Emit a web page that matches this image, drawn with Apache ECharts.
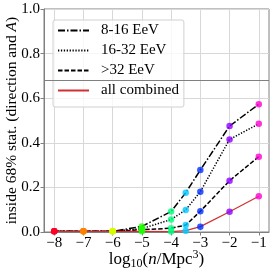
<!DOCTYPE html>
<html><head><meta charset="utf-8">
<script src="https://cdn.jsdelivr.net/npm/echarts@6/dist/echarts.min.js"></script>
<style>html,body{margin:0;padding:0;background:#fff}#c{width:274px;height:275px}</style>
</head><body><div id="c"></div>
<script>
const xVals = [-8, -7, -6, -5, -4, -3.5, -3, -2, -1];
const pointColors = ['#ff0028', '#ff8000', '#d4ff00', '#1eff00', '#00ff80', '#00c8ff', '#0030ff', '#9000ff', '#ff00d4'];
const s8_16 = [0.003, 0.003, 0.003, 0.025, 0.092, 0.176, 0.278, 0.475, 0.573];
const s16_32 = [0.003, 0.003, 0.003, 0.015, 0.056, 0.099, 0.181, 0.415, 0.485];
const s32 = [0.003, 0.003, 0.003, 0.010, 0.017, 0.031, 0.093, 0.230, 0.338];
const sAll = [0.003, 0.003, 0.003, 0.003, 0.002, 0.006, 0.024, 0.091, 0.160];
const xTicks = [-8, -7, -6, -5, -4, -3, -2, -1];
const refLine = 0.68;
const names = ['8-16 EeV', '16-32 EeV', '>32 EeV', 'all combined'];

const font = 'Liberation Serif';
const chart = echarts.init(document.getElementById('c'), null, {renderer: 'canvas'});
const pair = arr => arr.map((v, i) => [xVals[i], v]);
const styles = [
  {color: '#000', type: [7, 2, 1.5, 2], width: 1.5},
  {color: '#000', type: [1.3, 1.6], width: 1.5},
  {color: '#000', type: [4.5, 2], width: 1.5},
  {color: '#d03030', type: 'solid', width: 1.2}
];
const sets = [s8_16, s16_32, s32, sAll];
const series = [];
sets.forEach((s, k) => {
  series.push({
    name: names[k], type: 'line', data: pair(s), symbol: 'none',
    lineStyle: styles[k], itemStyle: {color: styles[k].color}, z: 3, silent: true,
    markLine: k === 0 ? {symbol: 'none', silent: true, label: {show: false},
      lineStyle: {color: '#808080', type: 'solid', width: 1}, data: [{yAxis: refLine}]} : undefined
  });
});
sets.forEach((s, k) => {
  series.push({
    name: 'pts' + k, type: 'scatter', symbol: 'circle', symbolSize: 6.5, z: 5, silent: true,
    data: s.map((v, i) => ({value: [xVals[i], v], itemStyle: {color: pointColors[i]}}))
  });
});

chart.setOption({
  animation: false,
  grid: {left: 44, top: 9, right: 5, bottom: 43, show: true, borderColor: '#808080', borderWidth: 1,
    containLabel: false, outerBoundsMode: 'none'},
  legend: {
    data: names, orient: 'vertical', left: 53, top: 20,
    itemWidth: 31, itemHeight: 14, itemGap: 5,
    padding: [3, 5, 9, 4],
    itemStyle: {color: 'rgba(0,0,0,0)', borderWidth: 0, opacity: 0},
    backgroundColor: 'rgba(255,255,255,0.8)', borderColor: '#d0d0d0', borderWidth: 1, borderRadius: 2,
    textStyle: {fontFamily: font, fontSize: 15, color: '#000', padding: [0, 0, 0, 7]},
    selectedMode: false
  },
  xAxis: {
    type: 'value', min: -8.35, max: -0.65,
    name: '{a|log}{s|10}{a|(}{i|n}{a|/Mpc}{p|3}{a|)}', nameLocation: 'middle', nameGap: 17,
    nameMoveOverlap: false,
    nameTextStyle: {rich: {
      a: {fontFamily: font, fontSize: 17, color: '#000'},
      i: {fontFamily: font, fontSize: 17, fontStyle: 'italic', color: '#000'},
      s: {fontFamily: font, fontSize: 12, color: '#000', verticalAlign: 'bottom', padding: [9, 0, 0, 0]},
      p: {fontFamily: font, fontSize: 12, color: '#000', verticalAlign: 'top', padding: [0, 0, 7, 0]}
    }},
    axisLine: {onZero: false, lineStyle: {color: '#808080'}},
    axisTick: {show: true, inside: false, length: 3.5, customValues: xTicks, lineStyle: {color: '#808080'}},
    axisLabel: {customValues: xTicks, fontFamily: font, fontSize: 15, color: '#000', margin: 4,
      formatter: v => (v < 0 ? '\u2212' : '') + Math.abs(v)},
    splitLine: {show: true, lineStyle: {color: '#d8d8d8', width: 1}}
  },
  yAxis: {
    type: 'value', min: 0, max: 1, interval: 0.2,
    name: '{a|inside 68% stat. (direction and }{i|A}{a|)}', nameLocation: 'middle', nameGap: 24,
    nameMoveOverlap: false,
    nameTextStyle: {rich: {
      a: {fontFamily: font, fontSize: 15.5, color: '#000'},
      i: {fontFamily: font, fontSize: 15.5, fontStyle: 'italic', color: '#000'}
    }},
    axisLine: {show: true, lineStyle: {color: '#808080'}},
    axisTick: {show: true, inside: false, length: 3.5, lineStyle: {color: '#808080'}},
    axisLabel: {fontFamily: font, fontSize: 15, color: '#000', margin: 4, formatter: v => v.toFixed(1)},
    splitLine: {show: true, lineStyle: {color: '#d8d8d8', width: 1}}
  },
  series: series
});
</script></body></html>
